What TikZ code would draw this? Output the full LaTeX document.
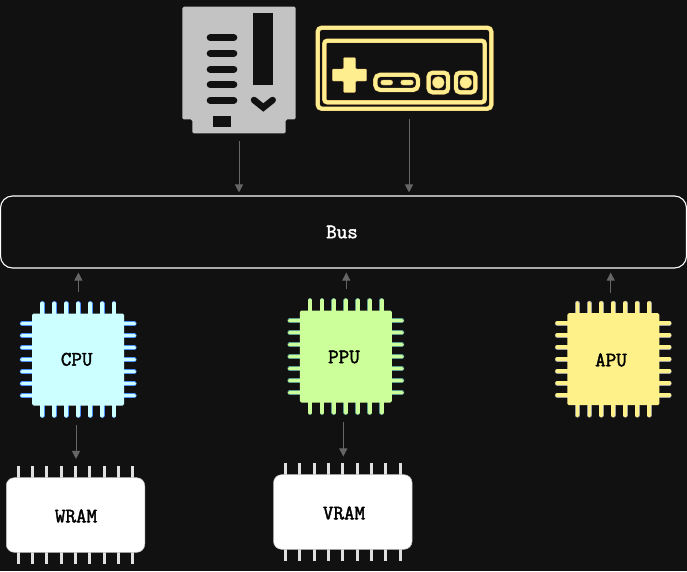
\documentclass[tikz,border=0pt]{standalone}
\usepackage{fontspec}
\newfontfamily\chipfont[FakeBold=2]{Latin Modern Mono}
\definecolor{bgdark}{HTML}{121112}
\definecolor{arrowgray}{HTML}{666666}
\definecolor{cartgray}{HTML}{C3C3C3}
\definecolor{padyellow}{HTML}{FFEE90}
\definecolor{padedge}{HTML}{DDB566}
\definecolor{cpufill}{HTML}{CCFFFF}
\definecolor{cpuedge}{HTML}{4D90FF}
\definecolor{ppufill}{HTML}{CCFF99}
\definecolor{ppuedge}{HTML}{5F9F8F}
\definecolor{apufill}{HTML}{FFF18A}
\definecolor{apuedge}{HTML}{9F9FA0}
\usetikzlibrary{arrows.meta}
\tikzset{
	flow/.style={-{Triangle[length=8pt,width=8pt]}, arrowgray, line width=0.9pt},
	chipbody/.style={shape=rectangle, rounded corners=1.5pt, minimum width=92pt, minimum height=92pt, inner sep=0pt},
	rambody/.style={shape=rectangle, rounded corners=8pt, fill=white, draw=gray!50, line width=0.5pt, minimum width=138.5pt, minimum height=74.6pt, inner sep=0pt},
	chiptext/.style={font=\chipfont\fontsize{20.5}{22}\selectfont, text=black, inner sep=0pt},
	padline/.style={draw=padedge, double=padyellow, double distance=3.6pt, line width=0.4pt, rounded corners=3pt},
	padmark/.style={fill=padyellow, draw=padedge, line width=0.4pt},
	cartmark/.style={draw=bgdark, line width=7pt, line cap=round}
}
% square chip: name, centre x, centre y, fill, pin edge
\newcommand{\squarechip}[5]{
	\foreach \pin in {-3,...,3} {
		\foreach \penwidth/\pencolor in {4.8pt/#5, 3.8pt/#4} {
			\draw[line cap=round, line width=\penwidth, \pencolor] ({#2+\pin*11.95},{#3-56}) -- ({#2+\pin*11.95},{#3+56});
			\draw[line cap=round, line width=\penwidth, \pencolor] ({#2-56},{#3+\pin*12}) -- ({#2+56},{#3+\pin*12});
		}
	}
	\node[chipbody, fill=#4] (#1) at (#2,#3) {};
}
% memory chip: name, centre x, centre y
\newcommand{\memorychip}[3]{
	\foreach \pin in {-4,...,4} {
		\draw[line width=3pt, white!88!black] ({#2+\pin*14.33},{#3-49}) -- ({#2+\pin*14.33},{#3+49});
	}
	\node[rambody] (#1) at (#2,#3) {};
}
\begin{document}
\begin{tikzpicture}[x=1pt, y=-1pt]
	\useasboundingbox (0,0) rectangle (687,571);
	\fill[bgdark] (0,0) rectangle (687,571);

	% cartridge
	\fill[cartgray, rounded corners=1.5pt] (182.3,6.7) -- (295.7,6.7) -- (295.7,119.3) -- (285.7,119.3) -- (285.7,133.3) -- (192.3,133.3) -- (192.3,119.3) -- (182.3,119.3) -- cycle;
	\fill[bgdark] (253,13) rectangle (273.3,85);
	\fill[bgdark] (213.3,116.3) rectangle (230.7,127.3);
	\foreach \liney in {37.7,53.3,69.3,84.7,100.3} {
		\draw[cartmark] (210.2,\liney) -- (233.8,\liney);
	}
	\draw[bgdark, line width=6.5pt, line cap=round, line join=miter] (254,100) -- (263.3,107.5) -- (272.7,100);

	% controller
	\node[padline, shape=rectangle, rounded corners=4pt, minimum width=173.6pt, minimum height=81pt, inner sep=0pt] (pad) at (404.5,68.2) {};
	\draw[padline] (324.3,40.7) rectangle (484.7,102.3);
	\draw[padmark, rounded corners=1pt] (343.5,57.7) -- (355.5,57.7) -- (355.5,69) -- (366.7,69) -- (366.7,81) -- (355.5,81) -- (355.5,92.3) -- (343.5,92.3) -- (343.5,81) -- (332.3,81) -- (332.3,69) -- (343.5,69) -- cycle;
	\draw[padline, rounded corners=5pt] (375.3,74.7) rectangle (418,90);
	\draw[padmark, rounded corners=2.4pt] (380.7,80) rectangle (392.7,85);
	\draw[padmark, rounded corners=2.4pt] (400.7,80) rectangle (413.3,85);
	\foreach \btnx in {438.3,465.7} {
		\draw[padline, rounded corners=4pt] (\btnx-9.7,72.7) rectangle (\btnx+9.7,92.3);
		\draw[padmark] (\btnx,82.5) circle (5.8);
	}

	% bus
	\node[shape=rectangle, draw=white, rounded corners=12pt, line width=1.1pt, minimum width=686pt, minimum height=72pt, inner sep=0pt] (bus) at (343.5,232) {};
	\node[chiptext, text=white] (buslabel) at (342,232) {Bus};

	% chips
	\squarechip{cpu}{78.2}{359.5}{cpufill}{cpuedge}
	\squarechip{ppu}{345.8}{356.5}{ppufill}{ppuedge}
	\squarechip{apu}{613.3}{359.2}{apufill}{apuedge}
	\memorychip{wram}{75.5}{515}
	\memorychip{vram}{342.8}{512}

	\node[chiptext] (cpulabel)  at (76.7,359.3) {CPU};
	\node[chiptext] (ppulabel)  at (344,357)    {PPU};
	\node[chiptext] (apulabel)  at (611,360)    {APU};
	\node[chiptext] (wramlabel) at (76,516)     {WRAM};
	\node[chiptext] (vramlabel) at (344,513)    {VRAM};

	% free ends of the connectors
	\coordinate (cartout) at (239,141);
	\coordinate (padout)  at (409,119);
	\coordinate (cpuout)  at (78.4,292.3);
	\coordinate (ppuout)  at (346.3,289.3);
	\coordinate (apuout)  at (610.7,292.7);
	\coordinate (cpumem)  at (76,425);
	\coordinate (ppumem)  at (343.3,422.3);

	\path [flow, shorten >=3pt] (cartout) edge (cartout |- bus.north);
	\path [flow, shorten >=3pt] (padout)  edge (padout |- bus.north);
	\path [flow, shorten >=4pt] (cpuout)  edge (cpuout |- bus.south);
	\path [flow, shorten >=4pt] (ppuout)  edge (ppuout |- bus.south);
	\path [flow, shorten >=4pt] (apuout)  edge (apuout |- bus.south);
	\path [flow, shorten >=18.5pt] (cpumem) edge (cpumem |- wram.north);
	\path [flow, shorten >=18pt]   (ppumem) edge (ppumem |- vram.north);
\end{tikzpicture}
\end{document}
